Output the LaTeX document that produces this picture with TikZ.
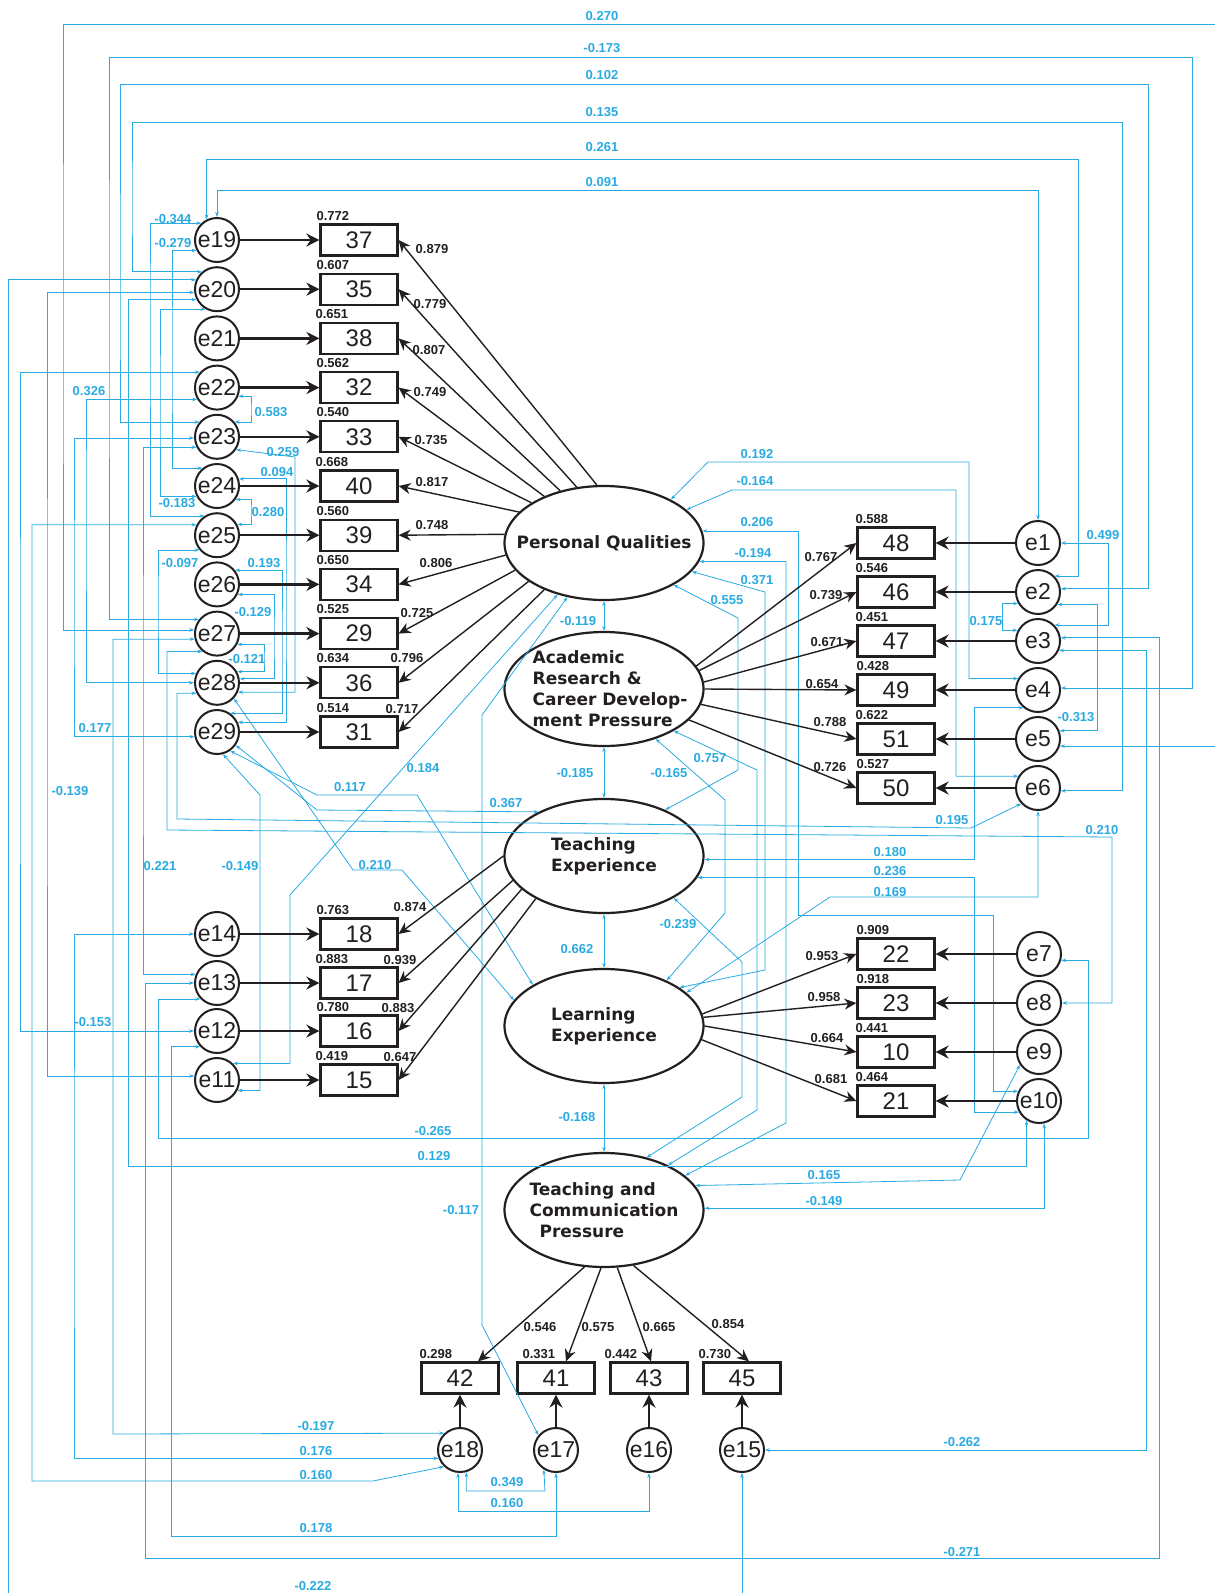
\documentclass[tikz,border=0pt]{standalone}
\usepackage{fontspec}
\setmainfont{Liberation Sans}
\newfontfamily\latfont{DejaVu Sans}
\usetikzlibrary{arrows.meta,shapes.geometric}
\definecolor{ink}{HTML}{231F20}
\definecolor{covblue}{HTML}{29ABE2}

\begin{document}
\begin{tikzpicture}[x=1pt,y=-1pt,text=ink,
  obs/.style={draw=ink,line width=2.2pt,minimum width=77pt,minimum height=31pt,
    inner sep=0pt,font=\fontsize{24}{24}\selectfont},
  err/.style={circle,draw=ink,line width=2pt,minimum size=44pt,inner sep=0pt,
    font=\fontsize{23}{23}\selectfont},
  latent/.style={ellipse,draw=ink,line width=2.2pt,minimum width=199pt,
    minimum height=114pt,inner sep=0pt},
  lattext/.style={align=left,font=\latfont\bfseries\fontsize{17}{21}\selectfont},
  load/.style={draw=ink,line width=1.4pt,-{Stealth[length=12pt,width=11pt]}},
  res/.style={draw=ink,line width=2.4pt,-{Stealth[length=13pt,width=13pt]}},
  cov/.style={draw=covblue,line width=.8pt,
    {Stealth[length=5pt,width=3.5pt]}-{Stealth[length=5pt,width=3.5pt]}},
  wt/.style={font=\bfseries\fontsize{13}{13}\selectfont,inner sep=0pt},
  cw/.style={wt,text=covblue},
  rsq/.style={wt,anchor=south west}]
  \path[use as bounding box,fill=white] (0,0) rectangle (1215,1593);

  % Latent factors
  \node[latent] (pq) at (604,543) {};
  \node[lattext] (pqtext) at (pq) {Personal Qualities};
  \node[latent] (ar) at (604,689) {};
  \node[lattext] (artext) at ([xshift=6pt]ar.center)
    {Academic\\Research \&\\Career Develop-\\ment Pressure};
  \node[latent] (te) at (604,856) {};
  \node[lattext] (tetext) at (te) {Teaching\\Experience};
  \node[latent] (le) at (604,1026) {};
  \node[lattext] (letext) at (le) {Learning\\Experience};
  \node[latent] (tcp) at (604,1210) {};
  \node[lattext] (tcptext) at (tcp)
    {Teaching and\\Communication\\\hspace*{10pt}Pressure};

  % Personal Qualities items
  \node[err] (e19) at (217,240) {e19};   \node[obs] (b37) at (359,240) {37};
  \node[err] (e20) at (217,289.2) {e20}; \node[obs] (b35) at (359,289.2) {35};
  \node[err] (e21) at (217,338.4) {e21}; \node[obs] (b38) at (359,338.4) {38};
  \node[err] (e22) at (217,387.6) {e22}; \node[obs] (b32) at (359,387.6) {32};
  \node[err] (e23) at (217,436.8) {e23}; \node[obs] (b33) at (359,436.8) {33};
  \node[err] (e24) at (217,486) {e24};   \node[obs] (b40) at (359,486) {40};
  \node[err] (e25) at (217,535.2) {e25}; \node[obs] (b39) at (359,535.2) {39};
  \node[err] (e26) at (217,584.4) {e26}; \node[obs] (b34) at (359,584.4) {34};
  \node[err] (e27) at (217,633.6) {e27}; \node[obs] (b29) at (359,633.6) {29};
  \node[err] (e28) at (217,682.8) {e28}; \node[obs] (b36) at (359,682.8) {36};
  \node[err] (e29) at (217,732) {e29};   \node[obs] (b31) at (359,732) {31};

  % Teaching Experience items
  \node[err] (e14) at (217,934) {e14};  \node[obs] (b18) at (359,934) {18};
  \node[err] (e13) at (217,983) {e13};  \node[obs] (b17) at (359,983) {17};
  \node[err] (e12) at (217,1031) {e12}; \node[obs] (b16) at (359,1031) {16};
  \node[err] (e11) at (217,1080) {e11}; \node[obs] (b15) at (359,1080) {15};

  % Academic Research items
  \node[obs] (b48) at (896,543) {48}; \node[err] (e1) at (1038,543) {e1};
  \node[obs] (b46) at (896,592) {46}; \node[err] (e2) at (1038,592) {e2};
  \node[obs] (b47) at (896,641) {47}; \node[err] (e3) at (1038,641) {e3};
  \node[obs] (b49) at (896,690) {49}; \node[err] (e4) at (1038,690) {e4};
  \node[obs] (b51) at (896,739) {51}; \node[err] (e5) at (1038,739) {e5};
  \node[obs] (b50) at (896,788) {50}; \node[err] (e6) at (1038,788) {e6};

  % Learning Experience items
  \node[obs] (b22) at (896,954) {22};  \node[err] (e7) at (1039,954) {e7};
  \node[obs] (b23) at (896,1003) {23}; \node[err] (e8) at (1039,1003) {e8};
  \node[obs] (b10) at (896,1052) {10}; \node[err] (e9) at (1039,1052) {e9};
  \node[obs] (b21) at (896,1101) {21}; \node[err] (e10) at (1039,1101) {e10};

  % Teaching and Communication Pressure items
  \node[obs] (b42) at (460,1378) {42}; \node[err] (e18) at (460,1450) {e18};
  \node[obs] (b41) at (556,1378) {41}; \node[err] (e17) at (556,1450) {e17};
  \node[obs] (b43) at (649,1378) {43}; \node[err] (e16) at (649,1450) {e16};
  \node[obs] (b45) at (742,1378) {45}; \node[err] (e15) at (742,1450) {e15};

  % Squared multiple correlations
  \node[rsq] (r37) at ([xshift=-3pt,yshift=3pt]b37.north west) {0.772};
  \node[rsq] (r35) at ([xshift=-3pt,yshift=3pt]b35.north west) {0.607};
  \node[rsq] (r38) at ([xshift=-4pt,yshift=3pt]b38.north west) {0.651};
  \node[rsq] (r32) at ([xshift=-3pt,yshift=3pt]b32.north west) {0.562};
  \node[rsq] (r33) at ([xshift=-3pt,yshift=3pt]b33.north west) {0.540};
  \node[rsq] (r40) at ([xshift=-4pt,yshift=3pt]b40.north west) {0.668};
  \node[rsq] (r39) at ([xshift=-3pt,yshift=3pt]b39.north west) {0.560};
  \node[rsq] (r34) at ([xshift=-3pt,yshift=3pt]b34.north west) {0.650};
  \node[rsq] (r29) at ([xshift=-3pt,yshift=3pt]b29.north west) {0.525};
  \node[rsq] (r36) at ([xshift=-3pt,yshift=3pt]b36.north west) {0.634};
  \node[rsq] (r31) at ([xshift=-3pt,yshift=3pt]b31.north west) {0.514};
  \node[rsq] (r18) at ([xshift=-3pt,yshift=3pt]b18.north west) {0.763};
  \node[rsq] (r17) at ([xshift=-4pt,yshift=3pt]b17.north west) {0.883};
  \node[rsq] (r16) at ([xshift=-3pt,yshift=3pt]b16.north west) {0.780};
  \node[rsq] (r15) at ([xshift=-4pt,yshift=3pt]b15.north west) {0.419};
  \node[rsq] (r48) at ([xshift=-1pt,yshift=3pt]b48.north west) {0.588};
  \node[rsq] (r46) at ([xshift=-1pt,yshift=3pt]b46.north west) {0.546};
  \node[rsq] (r47) at ([xshift=-1pt,yshift=3pt]b47.north west) {0.451};
  \node[rsq] (r49) at ([xshift=0pt,yshift=3pt]b49.north west) {0.428};
  \node[rsq] (r51) at ([xshift=-1pt,yshift=3pt]b51.north west) {0.622};
  \node[rsq] (r50) at ([xshift=0pt,yshift=3pt]b50.north west) {0.527};
  \node[rsq] (r22) at ([xshift=0pt,yshift=3pt]b22.north west) {0.909};
  \node[rsq] (r23) at ([xshift=0pt,yshift=3pt]b23.north west) {0.918};
  \node[rsq] (r10) at ([xshift=-1pt,yshift=3pt]b10.north west) {0.441};
  \node[rsq] (r21) at ([xshift=-1pt,yshift=3pt]b21.north west) {0.464};
  \node[rsq] (r42) at ([xshift=-1pt,yshift=3pt]b42.north west) {0.298};
  \node[rsq] (r41) at ([xshift=6pt,yshift=3pt]b41.north west) {0.331};
  \node[rsq] (r43) at ([xshift=-5pt,yshift=3pt]b43.north west) {0.442};
  \node[rsq] (r45) at ([xshift=-4pt,yshift=3pt]b45.north west) {0.730};

  % Error covariances, top bundle
  \draw[cov] (e27.171) -| (63,300) |- (1217,24) |- (e5.-18);
  \draw[cov] (e27.142) -| (109,300) |- (1192,57) |- (e4.5);
  \draw[cov] (e23.140) -| (120,300) |- (1148,84) |- (e2.8);
  \draw[cov] (e20.131) -| (132,200) |- (1122,122) |- (e6.-7);
  \draw[cov] (e19.117) |- (1078,159) |- (e2.44);
  \draw[cov] (e19.north) |- (1038,190) -- (e1.north);

  % Error covariances, left side
  \draw[cov] (e19.133) -| (150,300) |- (e25.123);
  \draw[cov] (e19.207) -| (172,360) |- (e24.129);
  \draw[cov] (e20.156) -| (8,1597) -| (e15.south);
  \draw[cov] (e20.188) -| (47,700) |- (e11.170);
  \draw[cov] (e20.207) -| (128,1166) -| (e10.237);
  \draw[cov] (e20.240) -| (160,400) |- (e24.207);
  \draw[cov] (e22.138) -| (20,700) |- (e12.180);
  \draw[cov] (e22.211) -| (86,500) |- (e28.180);
  \draw[cov] (e22.-22) -| (251,410) |- (e23.40);
  \draw[cov] (e23.183) -| (74,600) |- (e29.192);
  \draw[cov] (e23.207) -| (143,700) |- (e13.158);
  \draw[cov] (e23.-34) -- (295,457) |- (e28.-24);
  \draw[cov] (e24.18) -| (286,600) |- (e29.25);
  \draw[cov] (e24.-36) -| (251,510) |- (e25.28);
  \draw[cov] (e25.153) -| (32,1481) -- (373,1481) -- (e18.226);
  \draw[cov] (e25.220) -| (158,600) |- (e28.156);
  \draw[cov] (e26.38) -| (282,650) |- (e29.55);
  \draw[cov] (e26.-26) -| (274,640) |- (e28.10);
  \draw[cov] (e27.194) -| (113,1434) -- (e18.133);
  \draw[cov] (e27.231) -| (167,830) -- (1112,837) |- (e8.0);
  \draw[cov] (e27.-28) -| (264,660) |- (e28.29);
  \draw[cov] (e28.207) -| (177,819) -- (971,828) -- (e6.223);
  \draw[cov] (e28.-43) -- (353,870) -- (402,870) -- (le.164);
  \draw[cov] (e29.-55) -- (317,795) -- (417,795) -- (le.150);
  \draw[cov] (e29.-35) -- (317,810) -- (te.146);
  \draw[cov] (e29.-75) -- (260,795) |- (e11.-27);
  \draw[cov] (e14.180) -| (74,1200) |- (e18.201);
  \draw[cov] (e13.180) -| (145,1558) -| (1159,1000) |- (e3.8);
  \draw[cov] (e13.224) -| (158,1138) -| (1088,1050) |- (e7.-16);
  \draw[cov] (e12.223) -| (171,1536) -| (e17.south);
  \draw[cov] (pq.228) -- (290,895) |- (e11.46);
  \draw[cov] (pq.236) -- (482,715) -- (482,1325) -- (e17.140);

  % Error covariances, bottom
  \draw[cov] (e18.-74) |- (545,1491) -- (e17.238);
  \draw[cov] (e18.-95) |- (649,1511) -- (e16.south);
  \draw[cov] (e3.-24) -| (1146,1450) -- (e15.east);

  % Error covariances, right side
  \draw[cov] (e1.0) -| (1108,600) |- (e3.44);
  \draw[cov] (e2.210) -| (1002,615) |- (e3.152);
  \draw[cov] (e2.-33) -| (1097,700) |- (e5.21);
  \draw[cov] (pq.33) -- (708,462) -| (969,600) |- (e4.150);
  \draw[cov] (pq.22) -- (732,490) -| (956,700) |- (e6.149);
  \draw[cov] (pq.7) -| (798,915) -| (993,1000) |- (e10.155);
  \draw[cov] (pq.-11) -| (786,1123) -- (tcp.23);
  \draw[cov] (pq.-18) -- (765,592) -- (765,970) -- (le.27);
  \draw[cov] (pq.-31) -- (738,618) -- (738,770) -- (te.37);
  \draw[cov] (ar.-44) -- (725,800) -- (725,913) -- (le.36);
  \draw[cov] (ar.-31) -- (757,770) -- (757,1110) -- (tcp.35);
  \draw[cov] (te.-31) -- (742,962) -- (742,1097) -- (tcp.51);
  \draw[cov] (te.-2) -| (974,800) |- (e4.231);
  \draw[cov] (te.-13) -| (974,1000) |- (e10.209);
  \draw[cov] (le.22) -- (830,897) -| (e6.south);
  \draw[cov] (tcp.15) -- (960,1180) -- (e9.214);
  \draw[cov] (tcp.1) -| (e10.283);

  % Factor correlations
  \draw[cov] (pq.south) -- (ar.north);
  \draw[cov] (ar.south) -- (te.north);
  \draw[cov] (te.south) -- (le.north);
  \draw[cov] (le.south) -- (tcp.north);

  % Residual paths
  \draw[res] (e19) -- (b37); \draw[res] (e20) -- (b35);
  \draw[res] (e21) -- (b38); \draw[res] (e22) -- (b32);
  \draw[res] (e23) -- (b33); \draw[res] (e24) -- (b40);
  \draw[res] (e25) -- (b39); \draw[res] (e26) -- (b34);
  \draw[res] (e27) -- (b29); \draw[res] (e28) -- (b36);
  \draw[res] (e29) -- (b31);
  \draw[res] (e14) -- (b18); \draw[res] (e13) -- (b17);
  \draw[res] (e12) -- (b16); \draw[res] (e11) -- (b15);
  \draw[res] (e1) -- (b48); \draw[res] (e2) -- (b46);
  \draw[res] (e3) -- (b47); \draw[res] (e4) -- (b49);
  \draw[res] (e5) -- (b51); \draw[res] (e6) -- (b50);
  \draw[res] (e7) -- (b22); \draw[res] (e8) -- (b23);
  \draw[res] (e9) -- (b10); \draw[res] (e10) -- (b21);
  \draw[res] (e18) -- (b42); \draw[res] (e17) -- (b41);
  \draw[res] (e16) -- (b43); \draw[res] (e15) -- (b45);

  % Loadings
  \draw[load] (pq.97) -- (b37.east);  \draw[load] (pq.116) -- (b35.east);
  \draw[load] (pq.130) -- (b38.east); \draw[load] (pq.142) -- (b32.east);
  \draw[load] (pq.151) -- (b33.east); \draw[load] (pq.160) -- (b40.east);
  \draw[load] (pq.175) -- (b39.east); \draw[load] (pq.187) -- (b34.east);
  \draw[load] (pq.197) -- (b29.east); \draw[load] (pq.207) -- (b36.east);
  \draw[load] (pq.218) -- (b31.east);
  \draw[load] (ar.14) -- (b48.west); \draw[load] (ar.11) -- (b46.west);
  \draw[load] (ar.4) -- (b47.west);  \draw[load] (ar.0) -- (b49.west);
  \draw[load] (ar.-9) -- (b51.west); \draw[load] (ar.-20) -- (b50.west);
  \draw[load] (te.180) -- (b18.east); \draw[load] (te.195) -- (b17.east);
  \draw[load] (te.202) -- (b16.east); \draw[load] (te.212) -- (b15.east);
  \draw[load] (le.7) -- (b22.west); \draw[load] (le.5) -- (b23.west);
  \draw[load] (le.0) -- (b10.west); \draw[load] (le.-8) -- (b21.west);
  \draw[load] (tcp.251) -- ([xshift=18pt]b42.north);
  \draw[load] (tcp.267) -- ([xshift=10pt]b41.north);
  \draw[load] (tcp.283) -- ([xshift=2pt]b43.north);
  \draw[load] (tcp.298) -- ([xshift=7pt]b45.north);

  % Loading values
  \node[wt] (l0879) at (432,249) {0.879};
  \node[wt] (l0779) at (430,304) {0.779};
  \node[wt] (l0807) at (429,350) {0.807};
  \node[wt] (l0749) at (430,392) {0.749};
  \node[wt] (l0735) at (431,440) {0.735};
  \node[wt] (l0817) at (432,482) {0.817};
  \node[wt] (l0748) at (432,525) {0.748};
  \node[wt] (l0806) at (436,563) {0.806};
  \node[wt] (l0725) at (417,613) {0.725};
  \node[wt] (l0796) at (407,658) {0.796};
  \node[wt] (l0717) at (402,709) {0.717};
  \node[wt] (l0767) at (821,557) {0.767};
  \node[wt] (l0739) at (826,595) {0.739};
  \node[wt] (l0671) at (827,642) {0.671};
  \node[wt] (l0654) at (822,684) {0.654};
  \node[wt] (l0788) at (830,722) {0.788};
  \node[wt] (l0726) at (830,767) {0.726};
  \node[wt] (l0874) at (410,907) {0.874};
  \node[wt] (l0939) at (400,960) {0.939};
  \node[wt] (l0883) at (398,1008) {0.883};
  \node[wt] (l0647) at (400,1057) {0.647};
  \node[wt] (l0953) at (822,956) {0.953};
  \node[wt] (l0958) at (824,997) {0.958};
  \node[wt] (l0664) at (827,1038) {0.664};
  \node[wt] (l0681) at (831,1079) {0.681};
  \node[wt] (l0546) at (540,1327) {0.546};
  \node[wt] (l0575) at (598,1327) {0.575};
  \node[wt] (l0665) at (659,1327) {0.665};
  \node[wt] (l0854) at (728,1324) {0.854};

  % Covariance values
  \node[cw] (c0270) at (602,16) {0.270};
  \node[cw] (cm0173) at (602,48) {-0.173};
  \node[cw] (c0102) at (602,75) {0.102};
  \node[cw] (c0135) at (602,112) {0.135};
  \node[cw] (c0261) at (602,147) {0.261};
  \node[cw] (c0091) at (602,182) {0.091};
  \node[cw] (cm0344) at (173,219) {-0.344};
  \node[cw] (cm0279) at (173,243) {-0.279};
  \node[cw] (c0326) at (89,391) {0.326};
  \node[cw] (c0583) at (271,412) {0.583};
  \node[cw] (c0259) at (283,452) {0.259};
  \node[cw] (c0094) at (277,472) {0.094};
  \node[cw] (cm0183) at (177,503) {-0.183};
  \node[cw] (c0280) at (268,512) {0.280};
  \node[cw] (cm0097) at (180,563) {-0.097};
  \node[cw] (c0193) at (264,563) {0.193};
  \node[cw] (cm0129) at (253,612) {-0.129};
  \node[cw] (cm0121) at (247,659) {-0.121};
  \node[cw] (c0177) at (95,728) {0.177};
  \node[cw] (cm0139) at (70,791) {-0.139};
  \node[cw] (c0117) at (350,787) {0.117};
  \node[cw] (c0184) at (423,768) {0.184};
  \node[cw] (c0367) at (506,803) {0.367};
  \node[cw] (c0221) at (160,866) {0.221};
  \node[cw] (cm0149a) at (240,866) {-0.149};
  \node[cw] (c0210a) at (375,865) {0.210};
  \node[cw] (cm0153) at (93,1022) {-0.153};
  \node[cw] (cm0119) at (578,621) {-0.119};
  \node[cw] (cm0185) at (575,773) {-0.185};
  \node[cw] (c0662) at (577,949) {0.662};
  \node[cw] (cm0168) at (577,1117) {-0.168};
  \node[cw] (c0192) at (757,454) {0.192};
  \node[cw] (cm0164) at (755,481) {-0.164};
  \node[cw] (c0206) at (757,522) {0.206};
  \node[cw] (cm0194) at (753,553) {-0.194};
  \node[cw] (c0371) at (757,580) {0.371};
  \node[cw] (c0555) at (727,600) {0.555};
  \node[cw] (c0757) at (710,758) {0.757};
  \node[cw] (cm0165) at (669,773) {-0.165};
  \node[cw] (cm0239) at (678,924) {-0.239};
  \node[cw] (c0499) at (1103,535) {0.499};
  \node[cw] (c0175) at (986,621) {0.175};
  \node[cw] (cm0313) at (1076,717) {-0.313};
  \node[cw] (c0195) at (952,820) {0.195};
  \node[cw] (c0210b) at (1102,830) {0.210};
  \node[cw] (c0180) at (890,852) {0.180};
  \node[cw] (c0236) at (890,871) {0.236};
  \node[cw] (c0169) at (890,892) {0.169};
  \node[cw] (cm0265) at (433,1131) {-0.265};
  \node[cw] (c0129) at (434,1156) {0.129};
  \node[cw] (c0165) at (824,1175) {0.165};
  \node[cw] (cm0149b) at (824,1201) {-0.149};
  \node[cw] (cm0117) at (461,1210) {-0.117};
  \node[cw] (cm0197) at (316,1426) {-0.197};
  \node[cw] (c0176) at (316,1451) {0.176};
  \node[cw] (c0160a) at (316,1475) {0.160};
  \node[cw] (c0178) at (316,1528) {0.178};
  \node[cw] (c0349) at (507,1482) {0.349};
  \node[cw] (c0160b) at (507,1503) {0.160};
  \node[cw] (cm0262) at (962,1442) {-0.262};
  \node[cw] (cm0271) at (962,1552) {-0.271};
  \node[cw] (cm0222) at (313,1586) {-0.222};
\end{tikzpicture}
\end{document}
